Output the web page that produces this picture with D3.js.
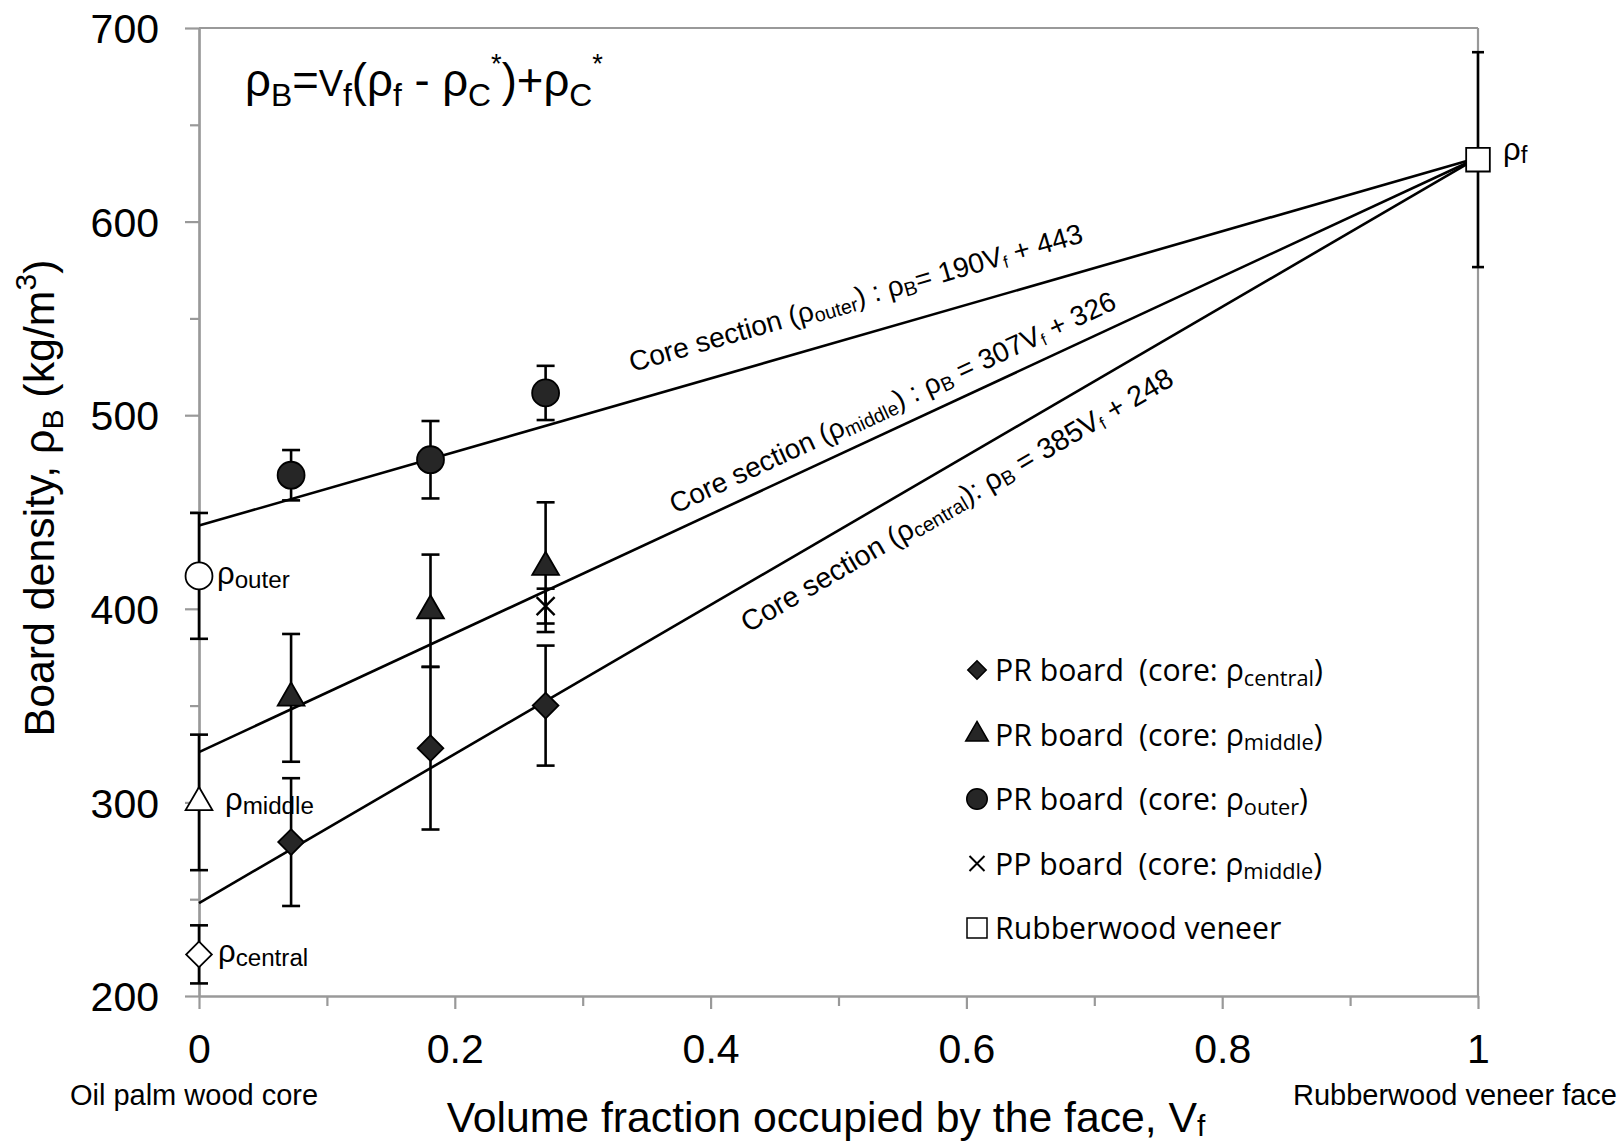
<!DOCTYPE html>
<html><head><meta charset="utf-8">
<script src="https://cdn.jsdelivr.net/npm/d3@7"></script>
<style>body{margin:0;background:#fff} svg{display:block}</style>
</head><body>
<svg id="chart" width="1623" height="1144"></svg>
<script>
// ---------------- data ----------------
const boardVf = [0.072, 0.181, 0.271];
const prCentral = [279.5, 328, 350];
const prCentralErr = [33, 42, 31];
const prMiddle = [354, 399, 421.5];
const prMiddleErr = [33, 29, 33.5];
const prOuter = [469, 477, 511.5];
const prOuterErr = [13, 20, 14];
const ppVf = [0.271];
const ppMiddle = [401.4];
const ppMiddleErr = [9];
const veneerVf = [1];
const veneer = [632];
const veneerErr = [55.5];
const coreNames = ["outer", "middle", "central"];
const coreVf = [0, 0, 0];
const coreDensity = [417, 300, 221.5];
const coreErr = [32.5, 35, 15];
const fitNames = ["outer", "middle", "central"];
const fitSlope = [190, 307, 385];
const fitIntercept = [443, 326, 248];
const fitColon = [") : ρ", ") : ρ", "): ρ"];
const fitEq = ["= ", " = ", " = "];
const xTicks = [0, 0.2, 0.4, 0.6, 0.8, 1];
const xMinorTicks = [0.1, 0.3, 0.5, 0.7, 0.9];
const yTicks = [200, 300, 400, 500, 600, 700];
const yMinorTicks = [250, 350, 450, 550, 650];
const legendNames = ["PR board", "PR board", "PR board", "PP board", "Rubberwood veneer"];
const legendCores = ["central", "middle", "outer", "middle", null];

// ---------------- setup ----------------
const svg = d3.select("#chart");
const FONT = "'Liberation Sans', Arial, sans-serif";
const LFONT = "'Open Sans', 'Noto Sans', sans-serif";
const x = d3.scaleLinear().domain([0, 1]).range([199, 1478]);
const y = d3.scaleLinear().domain([200, 700]).range([996, 28]);
const AX = "#999";

function rich(parent, segs, fs, attrs) {
  const t = parent.append("text").attr("font-size", fs);
  Object.entries(attrs || {}).forEach(([k, v]) => t.attr(k, v));
  let shift = 0;
  segs.forEach(s => {
    const k = s.s ? (s.s === "sub" ? (s.o ?? 0.22) : -(s.o ?? 0.42)) * fs : 0;
    const ts = t.append("tspan").attr("dy", k - shift).text(s.t);
    if (s.s || s.k) ts.attr("font-size", (s.k || 0.7) * fs);
    if (s.dx) ts.attr("dx", s.dx * fs);
    shift = k;
  });
  return t;
}
function fitRich(parent, segs, target, attrs) {
  const probe = rich(parent, segs, 100, attrs);
  const w = probe.node().getBBox().width;
  probe.remove();
  const fs = 100 * target / w;
  return {text: rich(parent, segs, fs, attrs), fs};
}

// ---------------- axes ----------------
const gy = svg.append("g").attr("transform", `translate(${x(0)},0)`)
  .call(d3.axisLeft(y).tickValues(yTicks).tickSize(14).tickPadding(26).tickSizeOuter(0).tickFormat(d3.format("d")));
const gyMinor = svg.append("g").attr("transform", `translate(${x(0)},0)`)
  .call(d3.axisLeft(y).tickValues(yMinorTicks).tickSize(9).tickSizeOuter(0).tickFormat(""));
const gx = svg.append("g").attr("transform", `translate(0,${y(200)})`)
  .call(d3.axisBottom(x).tickValues(xTicks).tickSize(13).tickPadding(25).tickSizeOuter(0).tickFormat(d3.format("~g")));
const gxMinor = svg.append("g").attr("transform", `translate(0,${y(200)})`)
  .call(d3.axisBottom(x).tickValues(xMinorTicks).tickSize(10).tickSizeOuter(0).tickFormat(""));
[gy, gyMinor, gx, gxMinor].forEach(g => {
  g.selectAll("path.domain").attr("stroke", AX).attr("stroke-width", 2.2);
  g.selectAll(".tick line").attr("stroke", AX).attr("stroke-width", 2.2);
  g.selectAll(".tick text").attr("fill", "#000").attr("font-size", 41).attr("font-family", FONT);
});
gy.selectAll(".tick text").attr("dy", "0.36em");
// top and right border of plot area
svg.append("line").attr("x1", x(0)).attr("x2", x(1)).attr("y1", y(700)).attr("y2", y(700))
  .attr("stroke", AX).attr("stroke-width", 2.2);
svg.append("line").attr("x1", x(1)).attr("x2", x(1)).attr("y1", y(700)).attr("y2", y(200))
  .attr("stroke", AX).attr("stroke-width", 2.2);

// end labels under x axis
svg.append("text").attr("x", x(0) - 5).attr("y", 1105).attr("text-anchor", "middle")
  .attr("font-family", FONT).attr("font-size", 29).text("Oil palm wood core");
svg.append("text").attr("x", 1617).attr("y", 1105).attr("text-anchor", "end")
  .attr("font-family", FONT).attr("font-size", 29).text("Rubberwood veneer face");

// axis titles
fitRich(svg, [{t: "Volume fraction occupied by the face, V"}, {t: "f", s: "sub", o: 0.1}], 759,
  {x: 826, y: 1132, "text-anchor": "middle", "font-family": FONT});
const gyt = svg.append("g").attr("transform", "translate(54,498) rotate(-90)");
fitRich(gyt, [{t: "Board density, ρ"}, {t: "B", s: "sub"}, {t: " (kg/m"}, {t: "3", s: "sup"}, {t: ")"}], 477,
  {x: 0, y: 0, "text-anchor": "middle", "font-family": FONT});

// equation
fitRich(svg, [{t: "ρ"}, {t: "B", s: "sub"}, {t: "="}, {t: "V", k: 0.8}, {t: "f", s: "sub"},
  {t: "(ρ"}, {t: "f", s: "sub"}, {t: " - ρ"}, {t: "C", s: "sub"}, {t: "*", s: "sup", k: 0.6, o: 0.5},
  {t: ")+ρ"}, {t: "C", s: "sub"}, {t: "*", s: "sup", k: 0.6, o: 0.5}], 358,
  {x: 245, y: 96, "font-family": FONT});

// ---------------- marks ----------------
const plot = svg.append("g");
function errBars(vf, vals, errs, cap) {
  vals.forEach((v, i) => {
    const cx = x(vf[i]);
    plot.append("line").attr("x1", cx).attr("x2", cx).attr("y1", y(v - errs[i])).attr("y2", y(v + errs[i]))
      .attr("stroke", "#000").attr("stroke-width", 2.6);
    [v - errs[i], v + errs[i]].forEach(e => {
      plot.append("line").attr("x1", cx - cap / 2).attr("x2", cx + cap / 2).attr("y1", y(e)).attr("y2", y(e))
        .attr("stroke", "#000").attr("stroke-width", 2.6);
    });
  });
}
errBars(coreVf, coreDensity, coreErr, 18);
errBars(boardVf, prCentral, prCentralErr, 18);
errBars(boardVf, prMiddle, prMiddleErr, 18);
errBars(boardVf, prOuter, prOuterErr, 18);
errBars(ppVf, ppMiddle, ppMiddleErr, 18);
errBars(veneerVf, veneer, veneerErr, 12);

// fitted lines
const line = d3.line().x(d => x(d[0])).y(d => y(d[1]));
fitSlope.forEach((a, i) => {
  plot.append("path").attr("d", line([[0, fitIntercept[i]], [1, fitIntercept[i] + a]]))
    .attr("fill", "none").attr("stroke", "#000").attr("stroke-width", 2.6);
});

const symCircle = d3.symbol().type(d3.symbolCircle).size(570);
const symTri = d3.symbol().type(d3.symbolTriangle).size(310);
const symDia = d3.symbol().type(d3.symbolSquare).size(330);
const symSq = d3.symbol().type(d3.symbolSquare).size(560);
const xMark = r => `M${-r},${-r}L${r},${r}M${-r},${r}L${r},${-r}`;
const FILL = "#262626";
function marks(vf, vals, path, fill, rot, sw) {
  vals.forEach((v, i) => {
    plot.append("path").attr("d", path)
      .attr("transform", `translate(${x(vf[i])},${y(v)})${rot ? ` rotate(${rot})` : ""}`)
      .attr("fill", fill).attr("stroke", "#000").attr("stroke-width", sw || 1.8);
  });
}
marks(boardVf, prOuter, symCircle(), FILL);
marks(boardVf, prMiddle, symTri(), FILL);
marks(boardVf, prCentral, symDia(), FILL, 45);
marks(ppVf, ppMiddle, xMark(9), "none", 0, 2.4);
marks(veneerVf, veneer, symSq(), "#fff");
// core (open) markers at Vf = 0
const coreSym = [symCircle(), symTri(), symDia()];
coreDensity.forEach((v, i) => {
  marks([coreVf[i]], [v], coreSym[i], "#fff", i === 2 ? 45 : 0);
});
// rho labels for core sections and face
const coreDx = [18, 26, 19];
coreDensity.forEach((v, i) => {
  rich(svg, [{t: "ρ"}, {t: coreNames[i], s: "sub", k: 0.78, o: 0.12}], 31,
    {x: x(coreVf[i]) + coreDx[i], y: y(v) + 8, "font-family": FONT});
});
rich(svg, [{t: "ρ"}, {t: "f", s: "sub", k: 0.78, o: 0.12}], 31,
  {x: x(veneerVf[0]) + 25, y: y(veneer[0]) + 0, "font-family": FONT});

// labels along fitted lines (rotated to each line's on-screen slope)
const fitLabelVf = [0.3387, 0.3721, 0.4293];
const fitLabelOff = [-29, -17, 50];
const fitLabelLen = [471, 489, 495];
fitSlope.forEach((a, i) => {
  const v = fitLabelVf[i];
  const ang = Math.atan2(y(fitIntercept[i] + a) - y(fitIntercept[i]), x(1) - x(0)) * 180 / Math.PI;
  const g = svg.append("g").attr("transform",
    `translate(${x(v)},${y(fitIntercept[i] + a * v) + fitLabelOff[i]}) rotate(${ang})`);
  fitRich(g, [{t: "Core section ("}, {t: "ρ"}, {t: fitNames[i], s: "sub", k: 0.7, o: 0.12},
    {t: fitColon[i]}, {t: "B", s: "sub", k: 0.7, o: 0.12}, {t: fitEq[i] + a + "V"}, {t: "f", s: "sub", k: 0.6, o: 0.12},
    {t: " + " + fitIntercept[i]}], fitLabelLen[i], {x: 0, y: 0, "font-family": FONT});
});

// ---------------- legend ----------------
const legSyms = [
  {p: symDia.size(170)(), rot: 45, fill: FILL},
  {p: symTri.size(220)(), fill: FILL},
  {p: symCircle.size(330)(), fill: FILL},
  {p: xMark(7.5), fill: "none", sw: 2},
  {p: symSq.size(400)(), fill: "#fff"}
];
const legX = 977, legTextX = 995, legTop = 670, legStep = 64.5;
let legFs = null;
legendNames.forEach((n, i) => {
  const cy = legTop + i * legStep;
  const s = legSyms[i];
  svg.append("path").attr("d", s.p)
    .attr("transform", `translate(${legX},${cy})${s.rot ? ` rotate(${s.rot})` : ""}`)
    .attr("fill", s.fill).attr("stroke", "#000").attr("stroke-width", s.sw || 1.5);
  const segs = legendCores[i]
    ? [{t: n}, {t: "(core: ρ", dx: 0.5}, {t: legendCores[i], s: "sub", k: 0.72, o: 0.15}, {t: ")"}]
    : [{t: n}];
  const attrs = {x: legTextX, y: cy + 11, "font-family": LFONT};
  if (legFs === null) {
    legFs = fitRich(svg, segs, 328, attrs).fs;
  } else {
    rich(svg, segs, legFs, attrs);
  }
});
</script>
</body></html>
